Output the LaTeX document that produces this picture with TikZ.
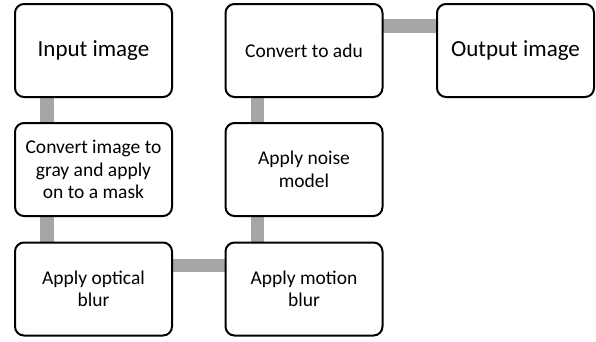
\documentclass[tikz,border=0pt]{standalone}
\usepackage{fontspec}
\setmainfont{Carlito}
\usetikzlibrary{backgrounds}
\definecolor{conngray}{HTML}{A6A6A6}
\begin{document}
\begin{tikzpicture}[x=1pt,y=1pt,
  box/.style={draw=black,line width=2pt,rounded corners=9pt,fill=white,
    minimum width=157pt,minimum height=93pt,inner sep=0pt,outer sep=0pt,
    align=center,font=\fontsize{19.5}{22.5}\selectfont},
  bigbox/.style={box,font=\fontsize{23}{27}\selectfont},
  conn/.style={draw=conngray,line width=13.5pt}]
\useasboundingbox (0,0) rectangle (596,-341);
\node[bigbox] (in)   at (93.5,-50.5) {Input image};
\node[box]    (gray) at (93.5,-169.5) {Convert image to\\gray and apply\\on to a mask};
\node[box]    (opt)  at (93.5,-289) {Apply optical\\blur};
\node[box]    (mot)  at (304,-289) {Apply motion\\blur};
\node[box]    (noise) at (304,-169.5) {Apply noise\\model};
\node[box]    (adu)  at (304,-50.5) {Convert to adu};
\node[bigbox] (out)  at (515.5,-50.5) {Output image};
\begin{scope}[on background layer]
\draw[conn] ([xshift=32pt]in.south west) -- ([xshift=32pt]gray.north west);
\draw[conn] ([xshift=32pt]gray.south west) -- ([xshift=32pt]opt.north west);
\draw[conn] ([yshift=-23pt]opt.north east) -- ([yshift=-23pt]mot.north west);
\draw[conn] ([xshift=32pt]mot.north west) -- ([xshift=32pt]noise.south west);
\draw[conn] ([xshift=32pt]noise.north west) -- ([xshift=32pt]adu.south west);
\draw[conn] ([yshift=-22pt]adu.north east) -- ([yshift=-22pt]out.north west);
\end{scope}
\end{tikzpicture}
\end{document}
